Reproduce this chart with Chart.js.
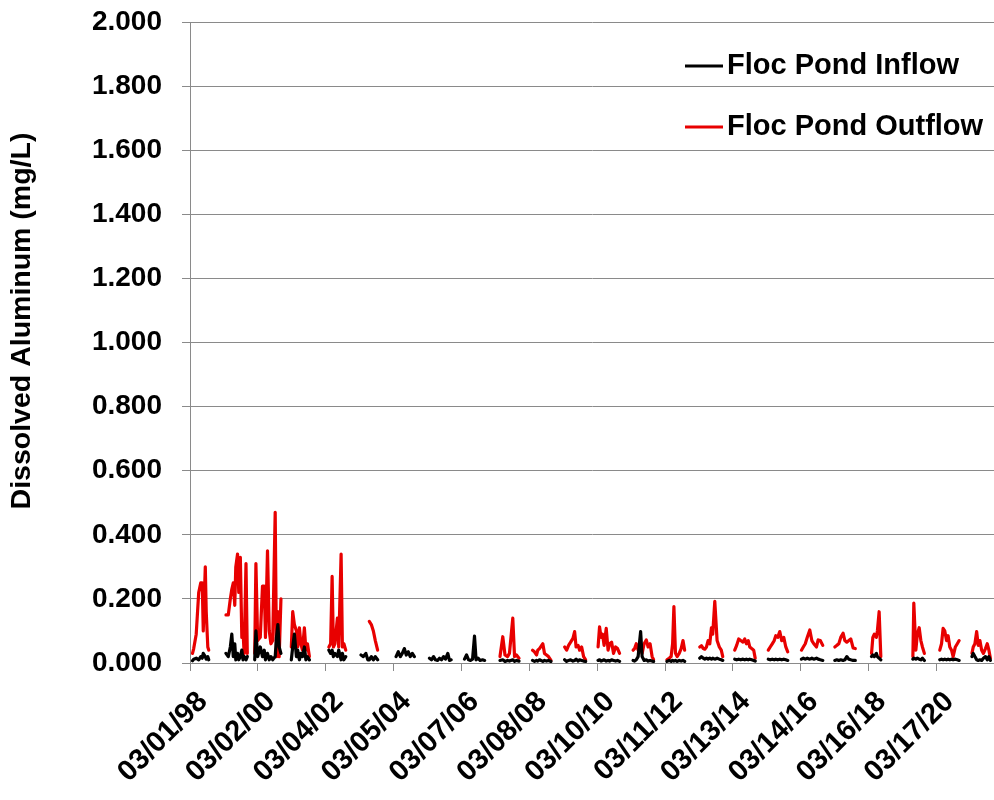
<!DOCTYPE html>
<html>
<head>
<meta charset="utf-8">
<title>Floc Pond Dissolved Aluminum</title>
<script src="https://cdn.jsdelivr.net/npm/chart.js@4/dist/chart.umd.min.js"></script>
<style>
  html, body { margin: 0; padding: 0; background: #ffffff; }
  canvas { display: block; }
</style>
</head>
<body>
<canvas id="chart" width="994" height="800"></canvas>
<script>
// ---- chart text ----
const seriesNames = ['Floc Pond Inflow', 'Floc Pond Outflow'];
const yAxisTitle = 'Dissolved Aluminum (mg/L)';

// ---- x axis: date tick labels (MM/DD/YY) and axis range ----
const tickLabels = ['03/01/98', '03/02/00', '03/04/02', '03/05/04', '03/07/06', '03/08/08',
                    '03/10/10', '03/11/12', '03/13/14', '03/14/16', '03/16/18', '03/17/20'];
const axisStart = '1998-03-01';
const axisEnd = '2021-11-28';

// ---- y axis ----
const yMin = 0, yMax = 2, yStep = 0.2;

// ---- sampling dates (one block per season) ----
const sampleDates = [
  // 1998
  '1998-03-28','1998-04-10','1998-05-07','1998-06-03','1998-06-25','1998-07-11','1998-07-22','1998-08-13','1998-08-23','1998-09-09','1998-09-19',
  // 1999
  '1999-03-24','1999-04-18','1999-05-10','1999-05-26','1999-06-11','1999-06-27','1999-07-08','1999-07-27','1999-08-09','1999-08-26','1999-09-11','1999-09-24','1999-10-06','1999-10-26','1999-11-09',
  // 2000
  '2000-01-28','2000-02-10','2000-02-29','2000-03-28','2000-04-21','2000-05-10','2000-05-23','2000-06-14','2000-07-03','2000-07-21','2000-08-09','2000-09-05','2000-09-19','2000-10-04','2000-10-18','2000-11-06',
  // 2001
  '2001-02-26','2001-03-13','2001-03-31','2001-04-22','2001-05-06','2001-05-24','2001-06-09','2001-06-26','2001-07-17','2001-08-02','2001-08-19','2001-09-09',
  // 2002
  '2002-04-07','2002-04-26','2002-05-12','2002-05-26','2002-06-11','2002-07-08','2002-07-22','2002-08-17','2002-08-31','2002-09-16','2002-10-06',
  // 2003
  '2003-03-20','2003-04-14','2003-05-11','2003-06-01','2003-06-17','2003-07-09','2003-07-31','2003-08-21','2003-09-15',
  // 2004
  '2004-04-01','2004-04-25','2004-05-17','2004-06-07','2004-06-29','2004-07-20','2004-08-11','2004-09-01','2004-09-23','2004-10-15',
  // 2005
  '2005-03-27','2005-04-18','2005-05-10','2005-05-31','2005-06-22','2005-07-13','2005-08-04','2005-08-26','2005-09-16','2005-10-11','2005-10-29','2005-11-16',
  // 2006
  '2006-04-09','2006-05-01','2006-05-23','2006-06-13','2006-07-05','2006-07-26','2006-08-12','2006-09-02','2006-09-24','2006-10-21','2006-11-12',
  // 2007
  '2007-04-27','2007-05-27','2007-06-20','2007-07-17','2007-08-07','2007-09-12','2007-10-01','2007-10-22','2007-11-18',
  // 2008
  '2008-04-12','2008-05-03','2008-05-25','2008-06-08','2008-06-26','2008-08-01','2008-08-19','2008-09-10','2008-10-01','2008-10-28',
  // 2009
  '2009-03-24','2009-04-15','2009-05-06','2009-05-28','2009-06-22','2009-07-10','2009-07-26','2009-08-17','2009-09-02','2009-09-24','2009-10-15','2009-11-06',
  // 2010
  '2010-03-20','2010-04-05','2010-04-21','2010-05-07','2010-05-24','2010-06-16','2010-07-06','2010-07-22','2010-08-13','2010-09-03','2010-09-25','2010-10-16','2010-11-07',
  // 2011
  '2011-04-02','2011-04-18','2011-05-06','2011-05-26','2011-06-22','2011-07-08','2011-07-30','2011-08-22','2011-09-11','2011-10-02','2011-10-24','2011-11-09',
  // 2012
  '2012-04-01','2012-04-25','2012-05-16','2012-06-01','2012-06-15','2012-07-02','2012-07-20','2012-08-11','2012-09-01','2012-09-21','2012-10-09',
  // 2013
  '2013-03-21','2013-04-08','2013-04-28','2013-05-14','2013-06-01','2013-06-19','2013-07-07','2013-07-25','2013-08-08','2013-08-30','2013-09-24','2013-10-18','2013-11-08','2013-11-24',
  // 2014
  '2014-04-02','2014-04-23','2014-05-15','2014-06-06','2014-06-30','2014-07-19','2014-08-06','2014-08-26','2014-09-11','2014-10-02','2014-10-24','2014-11-09',
  // 2015
  '2015-03-30','2015-04-20','2015-05-12','2015-06-02','2015-06-19','2015-07-10','2015-08-01','2015-08-22','2015-09-13','2015-10-05','2015-10-26',
  // 2016
  '2016-03-22','2016-04-11','2016-05-02','2016-05-24','2016-06-20','2016-07-12','2016-08-02','2016-08-31','2016-09-18','2016-10-11','2016-11-07',
  // 2017
  '2017-03-17','2017-04-07','2017-04-29','2017-05-20','2017-06-14','2017-07-03','2017-07-24','2017-08-15','2017-09-05','2017-09-30','2017-10-24',
  // 2018
  '2018-04-17','2018-05-01','2018-05-17','2018-06-08','2018-06-19','2018-07-08','2018-07-26',
  // 2019
  '2019-07-07','2019-07-17','2019-08-08','2019-08-24','2019-09-13','2019-10-01','2019-10-18','2019-11-08',
  // 2020
  '2020-04-22','2020-05-11','2020-05-28','2020-06-15','2020-07-04','2020-07-21','2020-08-08','2020-08-27','2020-09-13','2020-10-07','2020-10-28','2020-11-17',
  // 2021
  '2021-04-04','2021-04-18','2021-05-06','2021-05-25','2021-06-11','2021-06-29','2021-07-18','2021-08-06','2021-08-28','2021-09-16','2021-10-04','2021-10-20'
];

// ---- dissolved aluminum, mg/L (null = not sampled) ----
const inflowValues = [
  // 1998
  0.007,0.012,0.015,0.010,0.020,0.015,0.030,0.020,0.012,0.020,0.010,
  // 1999
  0.03,0.02,0.05,0.09,0.02,0.06,0.01,0.03,0.01,0.02,0.04,0.01,0.02,0.01,0.02,
  // 2000
  0.01,0.10,0.02,0.05,0.02,0.04,0.01,0.03,0.01,0.02,0.01,0.02,0.08,0.12,0.05,0.03,
  // 2001
  0.01,0.05,0.09,0.02,0.04,0.01,0.03,0.02,0.05,0.01,0.02,0.01,
  // 2002
  0.04,0.03,0.04,0.02,0.03,0.02,0.04,0.01,0.03,0.01,0.02,
  // 2003
  0.025,0.02,0.03,0.01,0.01,0.02,0.01,0.02,0.01,
  // 2004
  0.02,0.035,0.02,0.03,0.045,0.025,0.035,0.02,0.03,0.02,
  // 2005
  0.015,0.01,0.02,0.01,0.008,0.015,0.01,0.02,0.012,0.03,0.008,0.01,
  // 2006
  0.012,0.025,0.01,0.008,0.012,0.084,0.01,0.015,0.008,0.01,0.008,
  // 2007
  0.008,0.01,0.005,0.008,0.006,0.01,0.005,0.008,0.006,
  // 2008
  0.008,0.005,0.008,0.006,0.01,0.005,0.008,0.006,0.008,0.005,
  // 2009
  0.01,0.005,0.008,0.01,0.006,0.008,0.012,0.006,0.01,0.008,0.006,0.005,
  // 2010
  0.008,0.01,0.006,0.008,0.01,0.006,0.008,0.006,0.01,0.008,0.006,0.008,0.005,
  // 2011
  0.008,0.006,0.01,0.02,0.098,0.02,0.008,0.01,0.006,0.008,0.006,0.005,
  // 2012
  0.005,0.008,0.005,0.008,0.006,0.008,0.005,0.008,0.006,0.008,0.005,
  // 2013
  0.015,0.02,0.015,0.012,0.015,0.012,0.015,0.012,0.015,0.012,0.015,0.012,0.01,0.008,
  // 2014
  0.012,0.01,0.012,0.01,0.012,0.01,0.012,0.01,0.012,0.01,0.008,0.006,
  // 2015
  0.012,0.01,0.012,0.01,0.012,0.01,0.012,0.01,0.012,0.01,0.008,
  // 2016
  0.012,0.015,0.012,0.015,0.012,0.015,0.012,0.015,0.012,0.01,0.008,
  // 2017
  0.008,0.01,0.008,0.01,0.008,0.01,0.02,0.012,0.01,0.008,0.008,
  // 2018
  0.02,0.025,0.02,0.03,0.02,0.015,0.01,
  // 2019
  0.012,0.015,0.012,0.015,0.012,0.01,0.015,0.008,
  // 2020
  0.01,0.012,0.01,0.012,0.01,0.012,0.01,0.012,0.01,0.012,0.01,0.008,
  // 2021
  0.02,0.03,0.02,0.01,0.008,0.01,0.008,0.015,0.02,0.01,0.02,0.008
];

const outflowValues = [
  // 1998
  0.030,0.045,0.090,0.220,0.250,0.250,0.100,0.300,0.160,0.050,0.040,
  // 1999
  0.15,0.15,0.20,0.23,0.25,0.18,0.30,0.34,0.22,0.33,0.08,0.10,0.03,0.31,0.03,
  // 2000
  0.03,0.31,0.07,0.08,0.24,0.24,0.08,0.35,0.10,0.06,0.07,0.47,0.02,0.16,0.02,0.20,
  // 2001
  0.05,0.16,0.12,0.10,0.05,0.11,0.06,0.04,0.11,0.04,0.06,0.02,
  // 2002
  0.05,0.06,0.27,0.05,0.06,0.14,0.05,0.34,0.05,0.06,0.04,
  // 2003
  null,null,null,null,0.13,0.12,0.10,0.07,0.04,
  // 2004
  null,null,null,null,null,null,null,null,null,null,
  // 2005
  null,null,null,null,null,null,null,null,null,null,null,null,
  // 2006
  null,null,null,null,null,null,null,null,null,null,null,
  // 2007
  0.02,0.082,0.025,0.02,0.03,0.14,0.02,0.025,0.015,
  // 2008
  0.04,0.035,0.025,0.04,0.045,0.06,0.03,0.025,0.02,0.008,
  // 2009
  0.05,0.04,0.055,0.065,0.077,0.098,0.05,0.055,0.04,0.05,0.02,0.01,
  // 2010
  0.05,0.113,0.08,0.09,0.055,0.108,0.04,0.06,0.065,0.03,0.05,0.045,0.03,
  // 2011
  0.04,0.045,0.06,0.04,0.05,0.03,0.06,0.072,0.05,0.06,0.02,0.01,
  // 2012
  0.01,0.015,0.02,0.06,0.176,0.03,0.02,0.03,0.045,0.07,0.04,
  // 2013
  0.05,0.054,0.045,0.043,0.05,0.07,0.06,0.11,0.09,0.192,0.07,0.05,0.04,0.02,
  // 2014
  0.04,0.055,0.075,0.07,0.065,0.075,0.06,0.07,0.05,0.045,0.04,0.015,
  // 2015
  0.04,0.05,0.06,0.07,0.085,0.08,0.098,0.07,0.08,0.05,0.035,
  // 2016
  0.04,0.05,0.06,0.08,0.103,0.07,0.06,0.05,0.072,0.07,0.055,
  // 2017
  0.05,0.055,0.06,0.08,0.093,0.07,0.065,0.07,0.075,0.047,0.045,
  // 2018
  0.03,0.08,0.09,0.08,0.10,0.16,0.02,
  // 2019
  0.02,0.187,0.04,0.09,0.11,0.07,0.05,0.03,
  // 2020
  0.04,0.06,0.108,0.10,0.07,0.085,0.05,0.04,0.02,0.05,0.06,0.07,
  // 2021
  0.03,0.05,0.06,0.098,0.055,0.07,0.04,0.03,0.045,0.06,0.04,0.015
];

// ---- helpers ----
const DAY_MS = 86400000;
const isoToDay = s => Date.UTC(+s.slice(0, 4), +s.slice(5, 7) - 1, +s.slice(8, 10)) / DAY_MS;
const labelToDay = s => {
  const [m, d, yy] = s.split('/').map(Number);
  return Date.UTC(yy < 50 ? 2000 + yy : 1900 + yy, m - 1, d) / DAY_MS;
};
// unsampled dates are left out; season gaps are broken by spanGaps below
const toPoints = values => sampleDates
  .map((d, i) => ({ x: isoToDay(d), y: values[i] }))
  .filter(p => p.y !== null);

const FONT = '"Liberation Sans", Arial, Helvetica, sans-serif';
const TEXT_COLOR = '#000000';
const GRID_COLOR = '#8a8a8a';
const SERIES_COLORS = ['#000000', '#e80000'];

Chart.defaults.font.family = FONT;
Chart.defaults.color = TEXT_COLOR;

// rotated y-axis title and the in-plot legend
const annotations = {
  id: 'annotations',
  afterDraw(chart) {
    const { ctx } = chart;
    ctx.save();
    ctx.fillStyle = TEXT_COLOR;
    ctx.font = 'bold 28.5px ' + FONT;
    ctx.textAlign = 'center';
    ctx.textBaseline = 'middle';
    ctx.translate(22, 321);
    ctx.rotate(-Math.PI / 2);
    ctx.fillText(yAxisTitle, 0, 0);
    ctx.restore();

    const rows = [66, 127];
    chart.data.datasets.forEach((ds, i) => {
      const y = rows[i];
      ctx.save();
      ctx.strokeStyle = ds.borderColor;
      ctx.lineWidth = 3;
      ctx.beginPath();
      ctx.moveTo(685, y);
      ctx.lineTo(723, y);
      ctx.stroke();
      ctx.fillStyle = TEXT_COLOR;
      ctx.font = 'bold 29px ' + FONT;
      ctx.textAlign = 'left';
      ctx.textBaseline = 'middle';
      ctx.fillText(ds.label, 727, y);
      ctx.restore();
    });
  }
};

const lineStyle = {
  borderWidth: 3.2,
  pointRadius: 0,
  pointHoverRadius: 0,
  tension: 0,
  spanGaps: 75,          // break the line between seasons (gap > 75 days)
  borderJoinStyle: 'round',
  borderCapStyle: 'round',
  fill: false
};

new Chart(document.getElementById('chart'), {
  type: 'line',
  data: {
    datasets: [
      Object.assign({ label: seriesNames[0], data: toPoints(inflowValues), borderColor: SERIES_COLORS[0] }, lineStyle),
      Object.assign({ label: seriesNames[1], data: toPoints(outflowValues), borderColor: SERIES_COLORS[1] }, lineStyle)
    ]
  },
  options: {
    responsive: false,
    animation: false,
    devicePixelRatio: 1,
    layout: { padding: 0 },
    plugins: {
      legend: { display: false },
      tooltip: { enabled: false },
      title: { display: false }
    },
    scales: {
      x: {
        type: 'linear',
        min: isoToDay(axisStart),
        max: isoToDay(axisEnd),
        afterBuildTicks: scale => { scale.ticks = tickLabels.map(l => ({ value: labelToDay(l) })); },
        afterFit: scale => { scale.height = 137; },
        grid: { drawOnChartArea: false, drawTicks: true, tickLength: 8, color: GRID_COLOR, lineWidth: 1 },
        border: { color: GRID_COLOR, width: 1 },
        ticks: {
          autoSkip: false,
          minRotation: 45,
          maxRotation: 45,
          padding: 14,
          labelOffset: 13,
          color: TEXT_COLOR,
          font: { size: 29, weight: 'bold' },
          callback: (value, index) => tickLabels[index]
        }
      },
      y: {
        type: 'linear',
        min: yMin,
        max: yMax,
        afterFit: scale => {
          scale.width = 190;
          scale.paddingTop = 22;
          scale.paddingBottom = 0;
        },
        grid: { color: GRID_COLOR, lineWidth: 1, tickLength: 8 },
        border: { color: GRID_COLOR, width: 1 },
        ticks: {
          stepSize: yStep,
          padding: 20,
          color: TEXT_COLOR,
          font: { size: 28, weight: 'bold' },
          callback: v => v.toFixed(3)
        }
      }
    }
  },
  plugins: [annotations]
});
</script>
</body>
</html>
